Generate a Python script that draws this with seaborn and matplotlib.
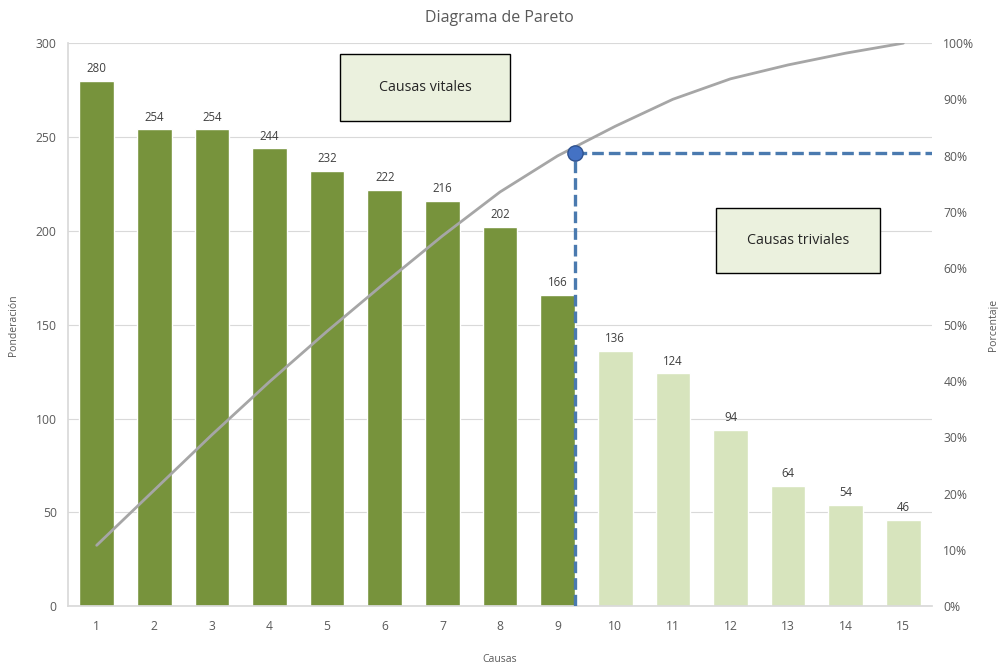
import numpy as np
import pandas as pd
import matplotlib
matplotlib.use("Agg")
import matplotlib.pyplot as plt
from matplotlib.patches import Rectangle
import seaborn as sns

causas = [str(i) for i in range(1, 16)]
ponderacion = [280, 254, 254, 244, 232, 222, 216, 202, 166, 136, 124, 94, 64, 54, 46]
grupo = ["vital"] * 9 + ["trivial"] * 6
porcentaje = np.cumsum(ponderacion) / np.sum(ponderacion) * 100

corte_x = 8.3
corte_pct = 80.5

sns.set_theme(style="white")
plt.rcParams["font.family"] = ["Open Sans", "DejaVu Sans"]

df = pd.DataFrame({"Causas": causas, "Ponderacion": ponderacion, "grupo": grupo})

fig, ax = plt.subplots(figsize=(9.98, 6.64), dpi=100)
fig.subplots_adjust(left=0.068, right=0.934, top=0.935, bottom=0.087)

sns.barplot(data=df, x="Causas", y="Ponderacion", hue="grupo",
            palette={"vital": "#77933C", "trivial": "#D7E4BD"},
            dodge=False, legend=False, width=0.6, saturation=1, ax=ax)

for i, v in enumerate(ponderacion):
    ax.text(i, v + 3, str(v), ha="center", va="bottom", fontsize=8.3, color="#404040")

ax.set_ylim(0, 300)
ax.set_xlim(-0.5, 14.5)
ax.set_yticks(range(0, 301, 50))
ax.grid(axis="y", color="#D9D9D9", linewidth=0.8)
ax.set_axisbelow(True)
for s in ["top", "right"]:
    ax.spines[s].set_visible(False)
ax.spines["left"].set_color("#D9D9D9")
ax.spines["bottom"].set_color("#D9D9D9")
ax.tick_params(axis="x", labelsize=8.7, colors="#595959", length=0, pad=10)
ax.tick_params(axis="y", labelsize=8.7, colors="#595959", length=0, pad=8)
ax.set_xlabel("Causas", fontsize=7.5, color="#595959", labelpad=15)
ax.set_ylabel("Ponderación", fontsize=7.5, color="#595959", labelpad=12)

ax2 = ax.twinx()
sns.lineplot(x=np.arange(15), y=porcentaje, color="#A6A6A6", linewidth=2.0, ax=ax2)
ax2.set_ylim(0, 100)
ax2.set_yticks(range(0, 101, 10))
ax2.set_yticklabels([f"{t}%" for t in range(0, 101, 10)])
ax2.tick_params(axis="y", labelsize=8.7, colors="#595959", length=0, pad=8)
for s in ax2.spines.values():
    s.set_visible(False)
ax2.set_ylabel("Porcentaje", fontsize=7.5, color="#595959", labelpad=10)
ax2.set_xlim(-0.5, 14.5)

ax2.plot([corte_x, 14.5], [corte_pct, corte_pct], color="#4A7AAF", linestyle=(0, (3.5, 1.5)),
         linewidth=2.4, dash_capstyle="butt")
ax2.plot([corte_x, corte_x], [0, corte_pct], color="#4A7AAF", linestyle=(0, (3.5, 1.5)),
         linewidth=2.4, dash_capstyle="butt")
ax2.plot([corte_x], [corte_pct], marker="o", markersize=11, color="#4472C4",
         markeredgecolor="#2F528F", markeredgewidth=1)

cajas = [("Causas vitales", 0.315, 0.861, 0.197, 0.119),
         ("Causas triviales", 0.750, 0.591, 0.190, 0.116)]
for texto, x0, y0, w, h in cajas:
    ax2.add_patch(Rectangle((x0, y0), w, h, transform=ax2.transAxes, facecolor="#EBF1DE",
                            edgecolor="black", linewidth=1, zorder=5))
    ax2.text(x0 + w / 2, y0 + h / 2, texto, transform=ax2.transAxes, ha="center", va="center",
             fontsize=10.3, color="#262626", zorder=6)

fig.suptitle("Diagrama de Pareto", y=0.985, fontsize=11.5, color="#595959")

plt.savefig("out.png", dpi=100)
plt.close("all")
